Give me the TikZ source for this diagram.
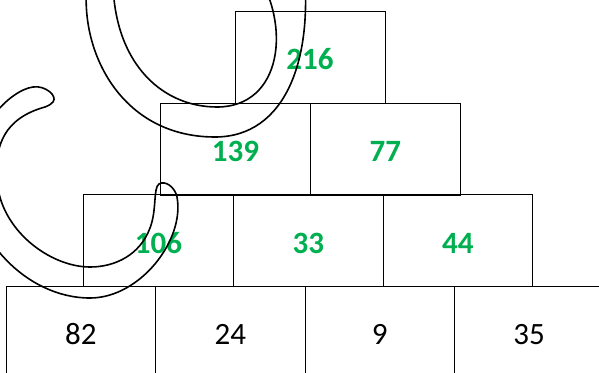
\documentclass[tikz,border=0pt]{standalone}
\usepackage{fontspec}
\setmainfont{Carlito}
\definecolor{sumgreen}{HTML}{00B050}
\begin{document}
\begin{tikzpicture}[x=1pt,y=-1pt,
  cell/.style={draw=black, line width=0.7pt, minimum height=92pt, inner sep=0pt,
    text height=25pt, text depth=0pt, font=\fontsize{31}{31}\selectfont},
  wide/.style={cell, minimum width=150pt},
  narrow/.style={cell, minimum width=149.5pt},
  sumcell/.style={text=sumgreen, font=\fontsize{31}{31}\selectfont\bfseries},
  ink/.style={draw=black, line width=1.6pt, line join=round}]
\clip (0,0) rectangle (599,372);
% base row
\node[narrow] (b1) at (80.8,332) {82};
\node[narrow] (b2) at (230.4,332) {24};
\node[narrow] (b3) at (379.8,332) {9};
\node[narrow] (b4) at (529.2,332) {35};
% third row
\node[narrow,sumcell] (c1) at (158.5,240.5) {106};
\node[narrow,sumcell] (c2) at (308.4,240.5) {33};
\node[narrow,sumcell] (c3) at (457.8,240.5) {44};
% second row
\node[wide,sumcell] (d1) at (235.5,149) {139};
\node[wide,sumcell] (d2) at (385.4,149) {77};
% top
\node[wide,sumcell] (t) at (310,57) {216};
% upper loop stroke
\draw[ink] (92,-40) .. controls (70,30) and (110,137) .. (215,137)
  .. controls (285,137) and (315,60) .. (303,-40) -- (303,-60) -- (255,-60) -- (255,-30)
  .. controls (292,25) and (282,107) .. (217,107)
  .. controls (160,107) and (110,60) .. (113,-30) -- (113,-60) -- (92,-60) -- cycle;
% left C stroke
\draw[ink] (53,102) .. controls (58,96) and (45,85) .. (33,87)
  .. controls (10,90) and (-30,130) .. (-28,180)
  .. controls (-30,235) and (25,298) .. (90,298)
  .. controls (140,298) and (185,240) .. (177,197)
  .. controls (175,187) and (165,180) .. (159,184)
  .. controls (153,188) and (157,210) .. (150,228)
  .. controls (140,255) and (115,267) .. (90,267)
  .. controls (50,267) and (0,230) .. (-3,180)
  .. controls (-6,145) and (5,118) .. (45,107)
  .. controls (50,105) and (51,104) .. (53,102) -- cycle;
\end{tikzpicture}
\end{document}
